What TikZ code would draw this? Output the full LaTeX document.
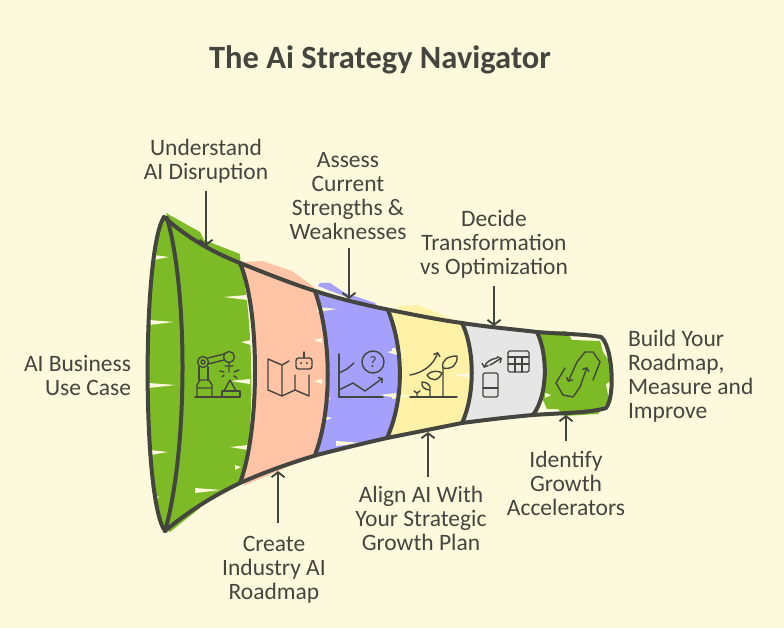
\documentclass[tikz,border=0pt]{standalone}
\usepackage{fontspec}
\setmainfont{Carlito}
\usetikzlibrary{arrows.meta}
\definecolor{bgc}{HTML}{FCF9DC}
\definecolor{ink}{HTML}{454540}
\definecolor{gr}{HTML}{7CBB25}
\definecolor{sal}{HTML}{FFC4A6}
\definecolor{vio}{HTML}{A4A0FB}
\definecolor{yel}{HTML}{FFF2A6}
\definecolor{gry}{HTML}{E6E6E6}
\tikzset{
 lbl/.style={text=ink,font=\fontsize{23.5}{24}\selectfont,inner sep=0pt,outer sep=0pt,align=center},
 ttl/.style={text=ink,font=\fontsize{32.5}{34}\selectfont\bfseries,inner sep=0pt},
 edge/.style={draw=ink,line width=4pt,line cap=round,line join=round},
 arr/.style={draw=ink,line width=1.9pt,-{Straight Barb[length=5pt,width=13pt,line width=1.9pt]}},
 ico/.style={draw=ink,line width=1.4pt,line cap=round,line join=round},
}
\newcommand{\notchR}[3]{\fill[bgc] (#1,#2-2) -- (#1+#3,#2) -- (#1,#2+3) -- cycle;}
\newcommand{\notchL}[3]{\fill[bgc] (#1,#2-2) -- (#1-#3,#2) -- (#1,#2+3) -- cycle;}
\begin{document}
\begin{tikzpicture}[x=1pt,y=-1pt]
\fill[bgc] (0,0) rectangle (784,628);
\useasboundingbox (0,0) rectangle (784,628);
% overshoot of the colour fills
\fill[gr] (166,213) -- (200,232) -- (204,240) -- (240,254) -- (241,268) -- (170,230) -- cycle;
\fill[gr] (160,525) -- (198,498) -- (200,508) -- (170,532) -- cycle;
\fill[sal] (243,262) -- (262,261) -- (292,271) -- (315,288) -- (300,290) -- cycle;
\fill[sal] (243,486) -- (290,466) -- (296,464) -- (250,478) -- cycle;
\fill[vio] (318,286) -- (320,283) -- (330,283) -- (345,293) -- (375,303) -- (380,310) -- cycle;
\fill[yel] (398,306) -- (418,305) -- (450,318) -- (400,315) -- cycle;
% colour fills
\fill[gr] (164,217) .. controls (190,240) and (215,253) .. (240,263) .. controls (252,300) and (258,440) .. (240,483) .. controls (215,495) and (190,510) .. (165,531) .. controls (142,500) and (142,250) .. (164,217) -- cycle;
\fill[sal] (240,263) .. controls (265,273) and (290,283) .. (315,291) .. controls (330,340) and (330,410) .. (317,455) .. controls (290,463) and (265,472) .. (240,483) .. controls (260,430) and (260,310) .. (240,263) -- cycle;
\fill[vio] (315,291) .. controls (340,299) and (365,305) .. (390,310) .. controls (402,350) and (400,410) .. (387,438) .. controls (365,443) and (340,449) .. (317,455) .. controls (332,410) and (332,340) .. (315,291) -- cycle;
\fill[yel] (390,310) .. controls (415,315) and (440,320) .. (462,323) .. controls (474,350) and (472,400) .. (462,423) .. controls (437,428) and (412,433) .. (387,438) .. controls (402,400) and (402,350) .. (390,310) -- cycle;
\fill[gry] (462,323) .. controls (487,327) and (512,329) .. (537,332) .. controls (546,355) and (546,395) .. (533,415) .. controls (510,417) and (485,420) .. (462,423) .. controls (474,395) and (474,350) .. (462,323) -- cycle;
\fill[gr] (537,333) -- (566,331) -- (572,340) -- (600,341) -- (603,352) -- (612,365) -- (611,381) -- (606,384) -- (609,400) -- (598,414) -- (564,416) -- (558,409) -- (547,409) -- (542,398) -- (544,360) -- cycle;
% cream gaps in the hatching
\notchR{153}{257}{16}\notchR{149}{322}{25}\notchR{148}{385}{28}\notchR{150}{452}{18}\notchR{150}{497}{10}
\notchL{247}{297}{24}\notchL{251}{342}{10}\notchL{250}{381}{20}\notchL{248}{447}{18}\notchR{195}{490}{26}\notchR{235}{467}{6}
\notchR{317}{309}{20}\notchL{322}{340}{8}\notchL{322}{381}{8}\notchR{324}{418}{8}\notchR{336}{443}{26}
\notchL{397}{352}{10}\notchL{396}{395}{16}\notchR{325}{398}{6}
\notchR{392}{350}{12}\notchR{392}{396}{20}
\notchL{470}{375}{16}
\notchR{545}{395}{6}\notchL{612}{350}{8}\notchL{612}{387}{6}
% funnel outline
\draw[edge] (164,217) .. controls (190,240) and (215,253) .. (240,263) .. controls (265,273) and (290,283) .. (315,291) .. controls (340,299) and (365,305) .. (390,310) .. controls (415,315) and (440,320) .. (462,323) .. controls (487,327) and (512,329) .. (537,332) .. controls (560,334) and (585,334) .. (601,337) .. controls (612,345) and (616,395) .. (606,408) .. controls (590,413) and (560,413) .. (533,415) .. controls (510,417) and (485,420) .. (462,423) .. controls (437,428) and (412,433) .. (387,438) .. controls (365,443) and (340,449) .. (317,455) .. controls (290,463) and (265,472) .. (240,483) .. controls (215,495) and (190,510) .. (165,531);
\draw[edge] (164,217) .. controls (142,250) and (142,500) .. (165,531);
\draw[edge] (167,218) .. controls (188,290) and (188,450) .. (165,531);
\draw[edge] (240,263) .. controls (260,310) and (260,430) .. (240,483);
\draw[edge] (315,291) .. controls (332,340) and (332,410) .. (315,455);
\draw[edge] (388,310) .. controls (404,350) and (404,400) .. (387,438);
\draw[edge] (462,323) .. controls (475,350) and (475,395) .. (462,423);
\draw[edge] (537,332) .. controls (548,355) and (548,395) .. (533,415);
% robot arm icon
\draw[ico] (195,397) -- (240,397) -- (240,391) -- (222,391) -- (222,397);
\draw[ico] (224,391) -- (230,380) -- (236,391);
\draw[ico] (197,397) -- (197,385) -- (200,380) -- (209,380) -- (212,385) -- (212,397) (197,388) -- (212,388);
\draw[ico] (199,380) -- (199,367) (208,380) -- (208,367);
\draw[ico] (203,362) circle (5.5) (203,362) circle (2);
\draw[ico] (229,357) circle (5.5);
\draw[ico] (208,358) -- (224,354) (208,364) -- (224,360);
\draw[ico] (229,363) -- (229,372) (225,366) -- (233,366) (220,371) -- (224,372) (234,372) -- (239,370) (222,377) -- (224,375) (234,376) -- (237,378);
% map and robot head icon
\draw[ico] (268,359) -- (282,365) -- (289,361) (268,359) -- (268,390) -- (282,396) -- (295,390) -- (309,396) -- (309,375) (282,365) -- (282,396) (295,375) -- (295,390);
\draw[ico,rounded corners=2.5pt] (296,358) rectangle (312,369);
\draw[ico] (304,358) -- (304,352);
\fill[ink] (301,363) circle (1.1) (307,363) circle (1.1);
% chart and question icon
\draw[ico] (339,354) -- (339,397) -- (383,397);
\draw[ico] (339,373) -- (347,369) -- (354,363);
\draw[ico,-{Straight Barb[length=3pt,width=7pt]}] (339,390) -- (353,383) -- (365,391) -- (383,378);
\draw[ico] (373,362) circle (11);
\node[text=ink,font=\fontsize{16}{16}\selectfont,inner sep=0pt] (qm) at (373,362) {?};
% plant icon
\draw[ico] (410,397) -- (457,397);
\draw[ico,-{Straight Barb[length=3pt,width=7pt]}] (410,375) .. controls (422,373) and (433,366) .. (438,352);
\draw[ico] (443,397) -- (443,368) .. controls (441,360) and (448,356) .. (457,356) .. controls (458,364) and (452,370) .. (443,368);
\draw[ico] (427,375) .. controls (430,371) and (438,370) .. (442,373) .. controls (438,382) and (431,381) .. (427,375);
\draw[ico] (430,397) -- (430,390) .. controls (424,390) and (421,386) .. (422,382) .. controls (428,382) and (431,386) .. (430,390);
\draw[ico] (417,397) -- (417,393) -- (414,391) (417,393) -- (420,391);
% device and table icon
\draw[ico,rounded corners=1.5pt] (483,373) rectangle (498,397);
\draw[ico] (483,388) -- (498,388);
\draw[ico,rounded corners=1.5pt] (508,351) rectangle (529,372);
\draw[ico] (508,357) -- (529,357) (508,364) -- (529,364) (515,357) -- (515,372) (522,357) -- (522,372);
\draw[ico,-{Straight Barb[length=3pt,width=7pt]}] (497,358) .. controls (491,359) and (486,362) .. (484,368);
\draw[ico,-{Straight Barb[length=3pt,width=7pt]}] (490,365) .. controls (494,363) and (498,360) .. (502,358);
% link icon
\draw[ico,-{Straight Barb[length=3pt,width=7pt]}] (565,368) -- (556,383) -- (563,395) -- (573,397) -- (580,387) -- (587,367);
\draw[ico,-{Straight Barb[length=3pt,width=7pt]}] (593,380) -- (600,362) -- (593,352) -- (585,352) -- (577,362) -- (568,382);
% title and labels
\node[ttl] (title) at (380,60) {The Ai Strategy Navigator};
\node[lbl] (a1) at (206,161) {Understand\\AI Disruption};
\node[lbl] (a2) at (348,196) {Assess\\Current\\Strengths \&\\Weaknesses};
\node[lbl] (a3) at (494,244) {Decide\\Transformation\\vs Optimization};
\node[lbl,align=left,anchor=west] (a4) at (628,376) {Build Your\\Roadmap,\\Measure and\\Improve};
\node[lbl,align=right,anchor=east] (a5) at (131,376) {AI Business\\Use Case};
\node[lbl] (b1) at (274,570) {Create\\Industry AI\\Roadmap};
\node[lbl] (b2) at (421,518) {Align AI With\\Your Strategic\\Growth Plan};
\node[lbl] (b3) at (566,483) {Identify\\Growth\\Accelerators};
% connectors
\coordinate (t1) at (206,246);
\coordinate (t2) at (349,299);
\coordinate (t3) at (494,326);
\coordinate (t4) at (278,471);
\coordinate (t5) at (428,432);
\coordinate (t6) at (566,415);
\draw[arr,shorten <=8pt] (a1.south -| t1) -- (t1);
\draw[arr,shorten <=8pt] (a2.south -| t2) -- (t2);
\draw[arr,shorten <=8pt] (a3.south -| t3) -- (t3);
\draw[arr,shorten <=13pt] (b1.north -| t4) -- (t4);
\draw[arr,shorten <=9pt] (b2.north -| t5) -- (t5);
\draw[arr,shorten <=10pt] (b3.north -| t6) -- (t6);
\end{tikzpicture}
\end{document}
